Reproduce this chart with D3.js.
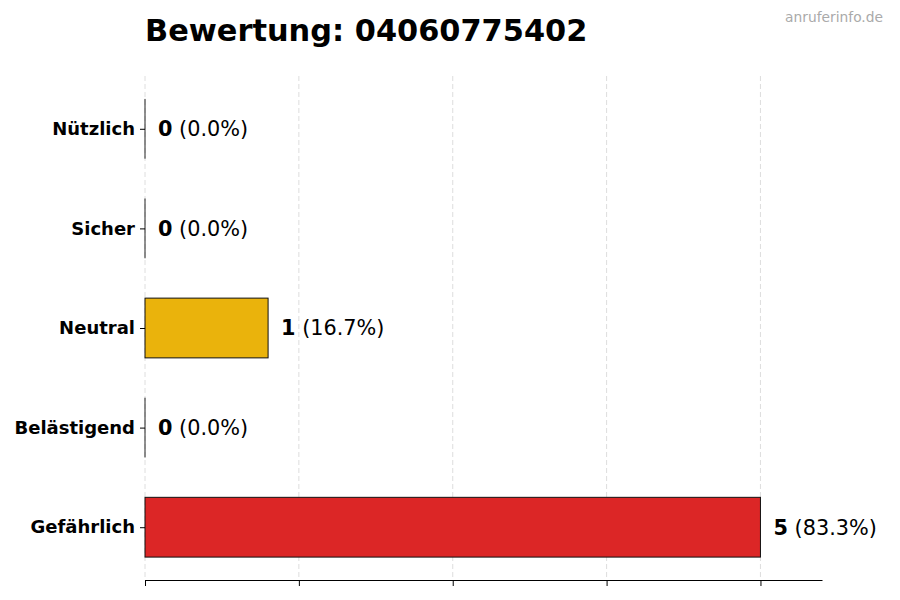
<!DOCTYPE html>
<html>
<head>
<meta charset="utf-8">
<script src="https://cdn.jsdelivr.net/npm/d3@7"></script>
<style>
  body { margin: 0; background: #fff; }
  svg { font-family: "DejaVu Sans", sans-serif; }
</style>
</head>
<body>
<div id="chart"></div>
<script>
// data, top to bottom
const categories = ['Nützlich', 'Sicher', 'Neutral', 'Belästigend', 'Gefährlich'];
const counts = [0, 0, 1, 0, 5];
const barColors = ['#2e9e4a', '#3b82c4', '#eab30c', '#e07b1f', '#dc2626'];
const xTicks = [0, 1.25, 2.5, 3.75, 5];
const titleText = 'Bewertung: 04060775402';

const width = 900, height = 600;
const margins = { top: 76, right: 78, bottom: 20, left: 145 };

const svg = d3.select('#chart').append('svg')
  .attr('width', width)
  .attr('height', height);

const total = d3.sum(counts);

const x = d3.scaleLinear().domain([0, 5.5]).range([margins.left, width - margins.right]);
// index 0 at the bottom, like matplotlib barh
const y = d3.scaleLinear().domain([-0.53, 4.53]).range([height - margins.bottom, margins.top]);
const pos = i => categories.length - 1 - i;
const barH = y(0) - y(0.6);

// grid
svg.append('g')
  .selectAll('line')
  .data(xTicks)
  .join('line')
  .attr('x1', d => x(d)).attr('x2', d => x(d))
  .attr('y1', margins.top).attr('y2', height - margins.bottom)
  .attr('stroke', '#d6d6d6')
  .attr('stroke-width', 0.8)
  .attr('stroke-dasharray', '5,3');

// bars
svg.append('g')
  .selectAll('rect')
  .data(counts)
  .join('rect')
  .attr('x', x(0))
  .attr('y', (d, i) => y(pos(i)) - barH / 2)
  .attr('width', d => x(d) - x(0))
  .attr('height', barH)
  .attr('fill', (d, i) => barColors[i])
  .attr('stroke', '#111')
  .attr('stroke-width', 1);

// zero-width bars still show their edge
svg.append('g')
  .selectAll('line')
  .data(counts.map((d, i) => ({ d, i })).filter(o => o.d === 0))
  .join('line')
  .attr('x1', x(0)).attr('x2', x(0))
  .attr('y1', o => y(pos(o.i)) - barH / 2)
  .attr('y2', o => y(pos(o.i)) + barH / 2)
  .attr('stroke', '#222')
  .attr('stroke-width', 1);

// value labels
const lab = svg.append('g')
  .selectAll('text')
  .data(counts)
  .join('text')
  .attr('x', d => x(d) + 13)
  .attr('y', (d, i) => y(pos(i)))
  .attr('dy', '0.36em')
  .attr('font-size', 20.8)
  .attr('fill', '#000');
lab.append('tspan').attr('font-weight', 'bold').text(d => d);
lab.append('tspan').text(d => ' (' + (total ? d / total * 100 : 0).toFixed(1) + '%)');

// y axis
const yAxis = svg.append('g')
  .attr('transform', 'translate(' + margins.left + ',0)')
  .call(d3.axisLeft(y).tickValues(categories.map((c, i) => pos(i)))
    .tickFormat(v => categories[categories.length - 1 - v])
    .tickSize(5).tickPadding(5).tickSizeOuter(0));
yAxis.select('.domain').remove();
yAxis.selectAll('text')
  .attr('font-size', 18)
  .attr('font-weight', 'bold')
  .attr('fill', '#000')
  .attr('font-family', '"DejaVu Sans", sans-serif');
yAxis.selectAll('line').attr('stroke', '#000');

// x axis, no labels
const xAxis = svg.append('g')
  .attr('transform', 'translate(0,' + (height - margins.bottom) + ')')
  .call(d3.axisBottom(x).tickValues(xTicks).tickFormat('').tickSize(6).tickSizeOuter(0));
xAxis.select('.domain').attr('stroke', '#000').attr('stroke-width', 1.2);
xAxis.selectAll('line').attr('stroke', '#000');

// title
svg.append('text')
  .attr('x', margins.left)
  .attr('y', 41)
  .attr('font-size', 30.4)
  .attr('font-weight', 'bold')
  .attr('fill', '#000')
  .text(titleText);

svg.append('text')
  .attr('x', 883)
  .attr('y', 22)
  .attr('text-anchor', 'end')
  .attr('font-size', 13.8)
  .attr('fill', '#aaa')
  .text('anruferinfo.de');
</script>
</body>
</html>
